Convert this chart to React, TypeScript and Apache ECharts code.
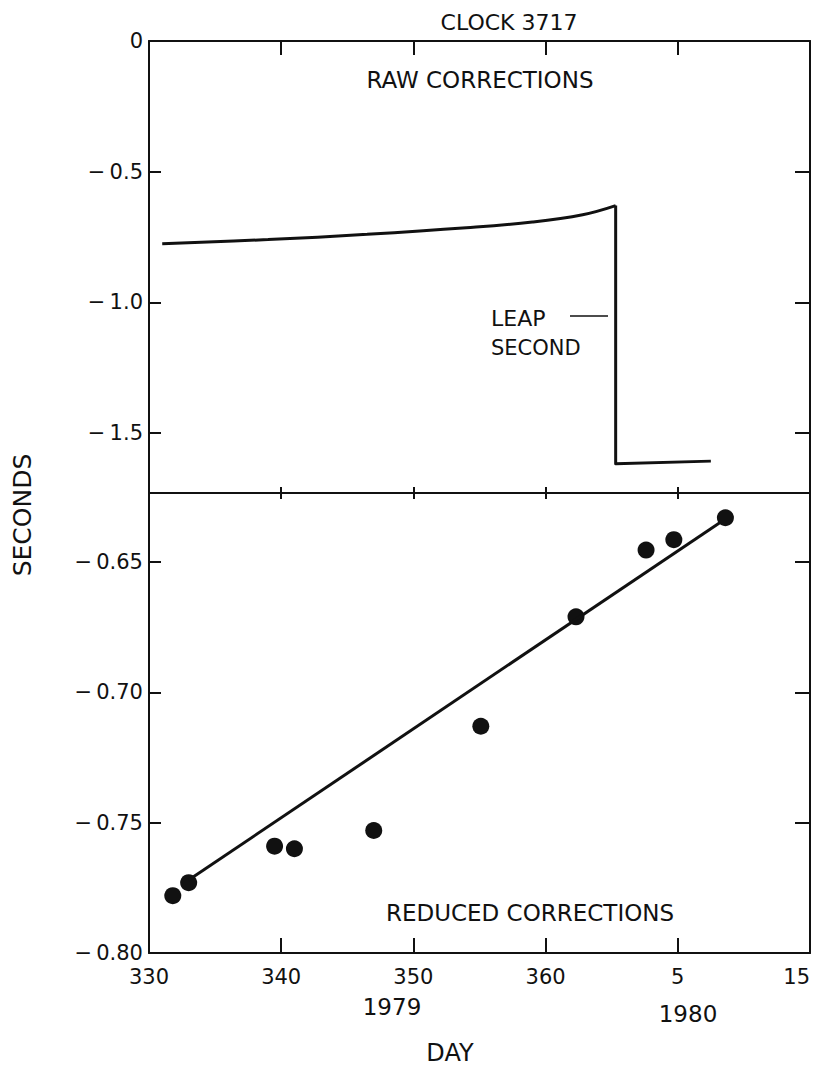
import React, { useEffect, useRef } from 'react';
import * as echarts from 'echarts';

// Day axis runs continuously across the year boundary (1979 has 365 days)
const DAY_MIN = 330;
const DAY_MAX = 380;
const DAY_STEP = 10;
const YEAR_LENGTH = 365;

// Top panel: raw corrections (seconds)
const rawCurveDays = [331.0, 339.0, 346.5, 354.0, 359.0, 362.8, 365.3];
const rawCurveValues = [-0.776, -0.76, -0.74, -0.715, -0.693, -0.665, -0.63];
const leapStepDays = [365.3, 365.3, 372.5];
const leapStepValues = [-0.63, -1.618, -1.608];

// Bottom panel: reduced corrections (seconds)
const reducedDays = [331.8, 333.0, 339.5, 341.0, 347.0, 355.1, 362.3, 367.6, 369.7, 373.6];
const reducedValues = [-0.778, -0.773, -0.759, -0.76, -0.753, -0.713, -0.671, -0.6454, -0.6414, -0.633];
const fitDays = [333.0, 373.2];
const fitValues = [-0.772, -0.6348];

const topMin = -1.73;
const topMax = 0;
const bottomMin = -0.8;
const bottomMax = -0.6235;
const bottomStep = 0.05;

const FONT = 'DejaVu Sans';
const INK = '#111';

export default function App() {
  const ref = useRef<HTMLDivElement>(null);

  useEffect(() => {
    const chart = echarts.init(ref.current!, null, { renderer: 'svg' });

    const lineStyle = { color: INK, width: 2 };
    const dayLabel = (v: number) => {
      const d = Math.round(v);
      return String(d <= YEAR_LENGTH ? d : d - YEAR_LENGTH);
    };
    const minus = '\u2212\u2009';
    const topLabel = (v: number) => {
      if (Math.abs(v * 2 - Math.round(v * 2)) > 1e-6) return '';
      if (Math.abs(v) < 1e-9) return '0';
      return minus + Math.abs(v).toFixed(1);
    };
    const bottomLabel = (v: number) => {
      if (Math.abs(v * 20 - Math.round(v * 20)) > 1e-6) return '';
      return minus + Math.abs(v).toFixed(2);
    };

    const xBase = {
      type: 'value',
      min: DAY_MIN,
      max: DAY_MAX,
      interval: DAY_STEP,
      splitLine: { show: false },
      axisLine: { show: true, onZero: false, lineStyle },
    };
    const yTopBase = {
      type: 'value',
      min: topMin,
      max: topMax,
      splitNumber: 4,
      splitLine: { show: false },
      axisLine: { show: true, onZero: false, lineStyle },
    };
    const yBottomBase = {
      type: 'value',
      min: bottomMin,
      max: bottomMax,
      interval: bottomStep,
      splitLine: { show: false },
      axisLine: { show: true, onZero: false, lineStyle },
    };

    const text = (x: number, y: number, t: string, align = 'center', size = 21, extra: any = {}) => ({
      type: 'text',
      x,
      y,
      ...extra,
      style: {
        text: t,
        fill: INK,
        font: `${size}px "${FONT}"`,
        textAlign: align,
        textVerticalAlign: 'middle',
      },
    });

    const tickFont = { fontSize: 21, fontFamily: FONT, color: INK };

    const option: any = {
      animation: false,
      backgroundColor: '#ffffff',
      grid: [
        { left: 149, right: 10, top: 41, height: 452, outerBoundsMode: 'none' },
        { left: 149, right: 10, top: 493, height: 460, outerBoundsMode: 'none' },
      ],
      xAxis: [
        {
          ...xBase,
          gridIndex: 0,
          position: 'top',
          axisTick: { inside: true, length: 14, lineStyle },
          axisLabel: { show: false },
        },
        {
          ...xBase,
          gridIndex: 0,
          position: 'bottom',
          axisTick: { inside: true, length: 6, lineStyle },
          axisLabel: { show: false },
        },
        {
          ...xBase,
          gridIndex: 1,
          position: 'top',
          axisTick: { inside: true, length: 6, lineStyle },
          axisLabel: { show: false },
        },
        {
          ...xBase,
          gridIndex: 1,
          position: 'bottom',
          axisTick: { inside: true, length: 15, lineStyle },
          axisLabel: {
            margin: 13,
            ...tickFont,
            formatter: dayLabel,
            alignMaxLabel: 'right',
          },
        },
      ],
      yAxis: [
        {
          ...yTopBase,
          gridIndex: 0,
          position: 'left',
          axisTick: { inside: true, length: 12, lineStyle },
          axisLabel: {
            margin: 6,
            ...tickFont,
            formatter: topLabel,
            showMinLabel: false,
          },
        },
        {
          ...yTopBase,
          gridIndex: 0,
          position: 'right',
          axisTick: { inside: true, length: 15, lineStyle },
          axisLabel: { show: false },
        },
        {
          ...yBottomBase,
          gridIndex: 1,
          position: 'left',
          axisTick: { inside: true, length: 12, lineStyle },
          axisLabel: {
            margin: 6,
            ...tickFont,
            formatter: bottomLabel,
            showMaxLabel: false,
          },
        },
        {
          ...yBottomBase,
          gridIndex: 1,
          position: 'right',
          axisTick: { inside: true, length: 15, lineStyle },
          axisLabel: { show: false },
        },
      ],
      series: [
        {
          type: 'line',
          xAxisIndex: 0,
          yAxisIndex: 0,
          data: rawCurveDays.map((d, i) => [d, rawCurveValues[i]]),
          smooth: 0.4,
          showSymbol: false,
          lineStyle: { color: INK, width: 3 },
        },
        {
          type: 'line',
          xAxisIndex: 0,
          yAxisIndex: 0,
          data: leapStepDays.map((d, i) => [d, leapStepValues[i]]),
          showSymbol: false,
          lineStyle: { color: INK, width: 3, join: 'round' },
        },
        {
          type: 'line',
          xAxisIndex: 3,
          yAxisIndex: 2,
          data: fitDays.map((d, i) => [d, fitValues[i]]),
          showSymbol: false,
          lineStyle: { color: INK, width: 3 },
        },
        {
          type: 'scatter',
          xAxisIndex: 3,
          yAxisIndex: 2,
          data: reducedDays.map((d, i) => [d, reducedValues[i]]),
          symbol: 'circle',
          symbolSize: 17,
          itemStyle: { color: INK, opacity: 1 },
        },
      ],
      graphic: [
        text(509, 22, 'CLOCK 3717', 'center', 22),
        text(480, 80, 'RAW CORRECTIONS', 'center', 23),
        text(491, 318, 'LEAP', 'left', 22),
        text(491, 348, 'SECOND', 'left', 21),
        {
          type: 'line',
          shape: { x1: 570, y1: 316, x2: 608, y2: 316 },
          style: { stroke: INK, lineWidth: 1.5 },
        },
        text(530, 913, 'REDUCED CORRECTIONS', 'center', 23),
        text(392, 1007, '1979', 'center', 23),
        text(688, 1014, '1980', 'center', 23),
        text(450, 1053, 'DAY', 'center', 24),
        text(22, 515, 'SECONDS', 'center', 25, { rotation: Math.PI / 2 }),
      ],
    };

    chart.setOption(option);
    return () => chart.dispose();
  }, []);

  return (
    <div
      ref={ref}
      style={{ position: 'absolute', left: 0, top: 0, width: 820, height: 1071, background: '#fff' }}
    />
  );
}
